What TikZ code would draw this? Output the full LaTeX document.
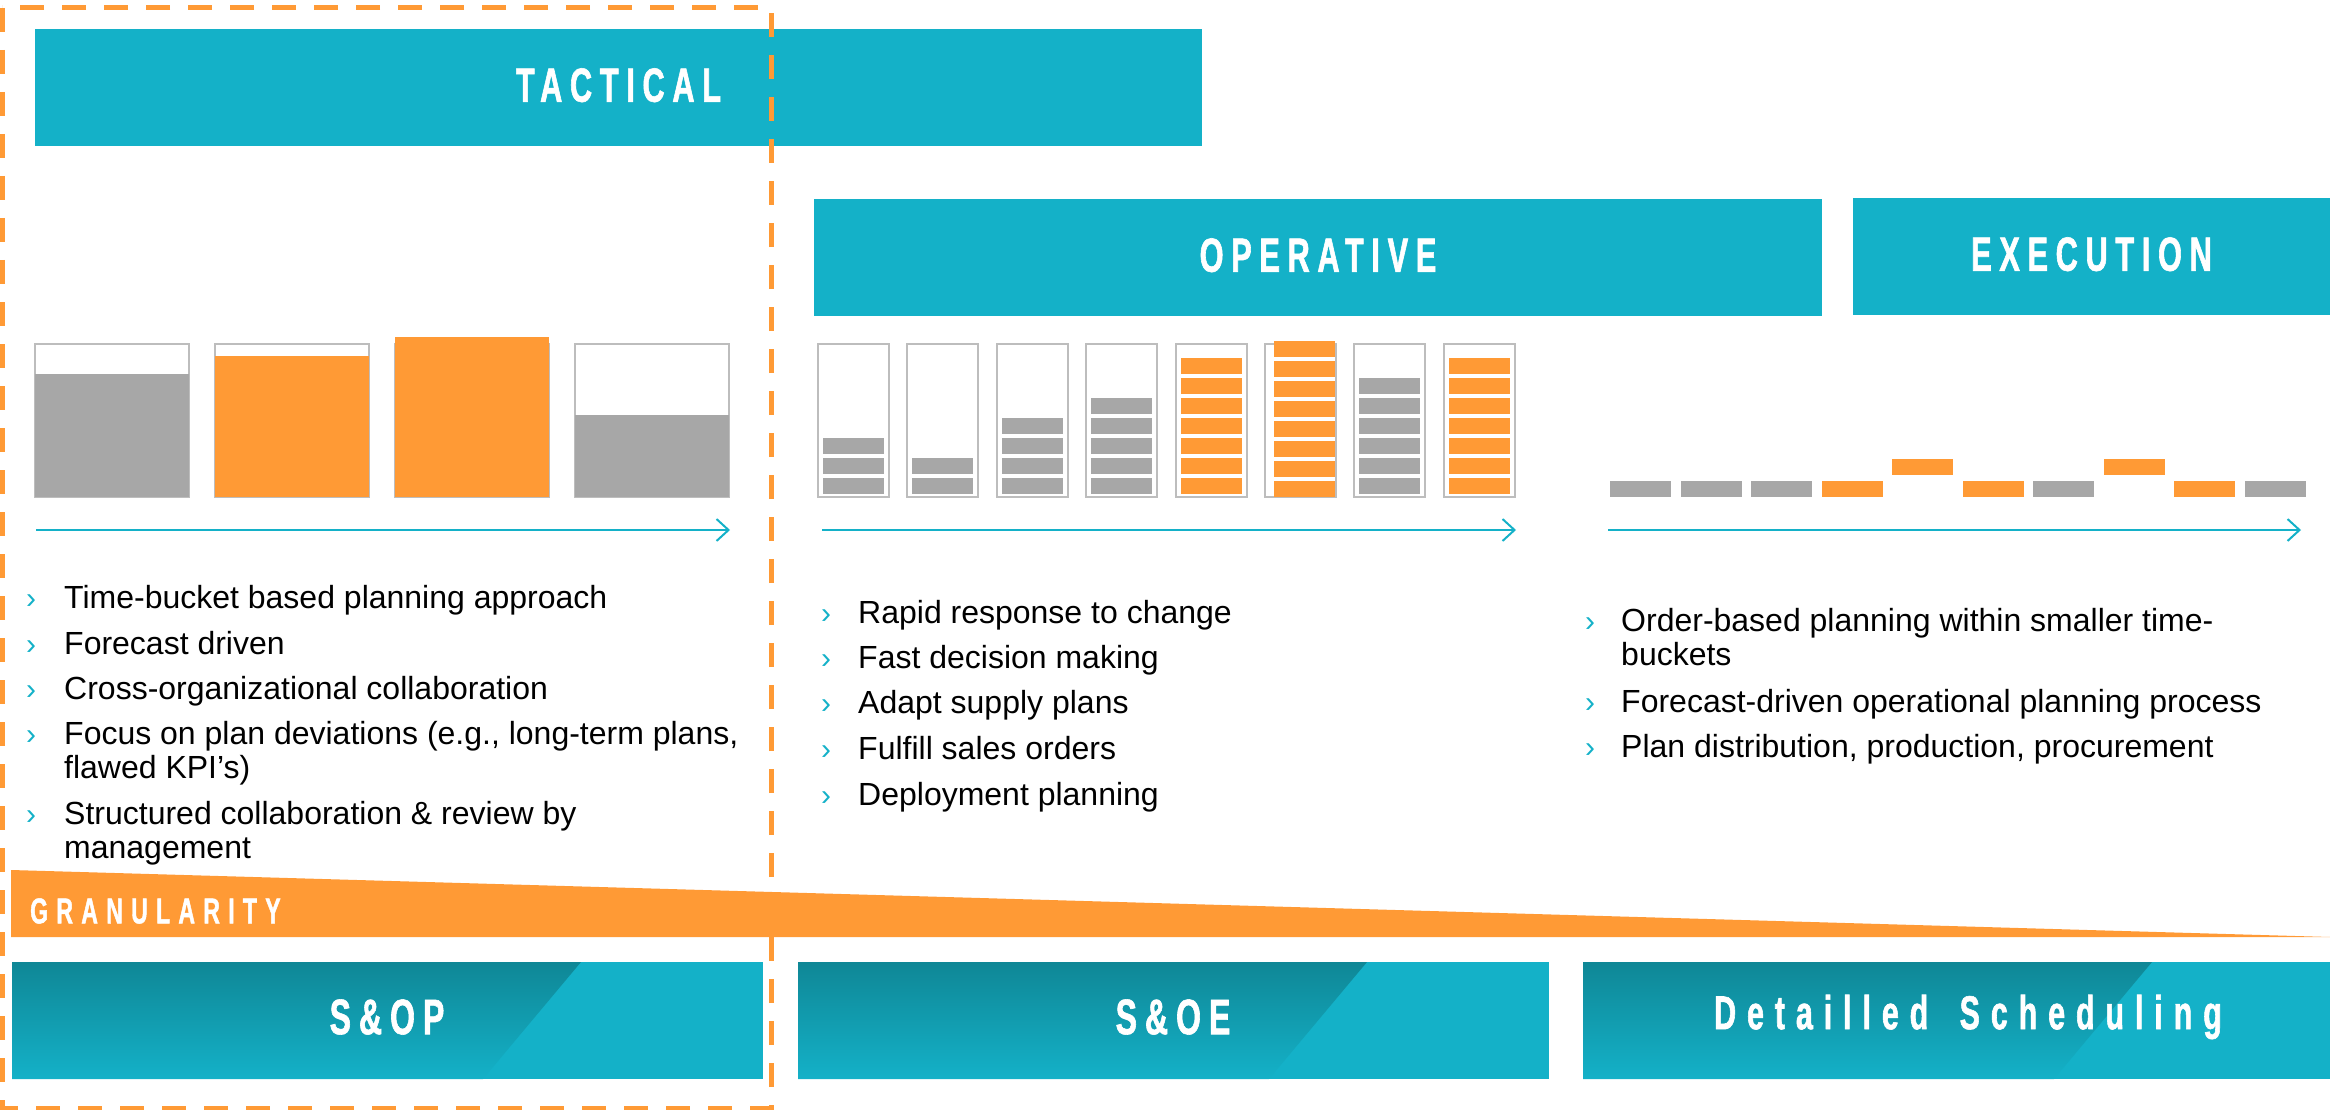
\documentclass[tikz,border=0pt]{standalone}
\usepackage{fontspec}
\setmainfont{Liberation Sans}
\newfontfamily\headfont[FakeStretch=0.64,FakeBold=1.2]{Liberation Sans}
\usetikzlibrary{arrows.meta}

\definecolor{tealblue}{HTML}{14B1C8}
\definecolor{tealdark}{HTML}{0F8796}
\definecolor{plorange}{HTML}{FF9A35}
\definecolor{bargray}{HTML}{A7A7A7}
\definecolor{boxgray}{HTML}{BDBDBD}

\tikzset{
  headbar/.style={fill=tealblue, text=white, inner sep=0pt, minimum height=117pt, text depth=5pt,
    font=\headfont\bfseries\fontsize{48}{48}\selectfont\addfontfeature{LetterSpace=16}},
  lowlabel/.style={text=white, inner sep=0pt,
    font=\headfont\bfseries\fontsize{50}{50}\selectfont\addfontfeature{LetterSpace=16}},
  itemtext/.style={anchor=base west, inner sep=0pt, align=left,
    font=\fontsize{32}{34}\selectfont},
  itemmark/.style={anchor=base west, inner sep=0pt, text=tealblue,
    font=\fontsize{30}{30}\selectfont},
  timeline/.style={tealblue, line width=2pt, -{Straight Barb[length=12pt,width=22pt]}},
  bucket/.style={draw=boxgray, line width=2pt},
}

\begin{document}
\begin{tikzpicture}[x=1pt,y=-1pt]
  \useasboundingbox (0,0) rectangle (2330,1110);

  % planning levels
  \node[headbar, minimum width=1167pt] (tactical) at (618.5,87.5) {TACTICAL};
  \node[headbar, minimum width=1008pt] (operative) at (1318,257.5) {OPERATIVE};
  \node[headbar, minimum width=477pt] (execution) at (2091.5,256.5) {EXECUTION};

  % tactical time buckets
  \foreach \lvl/\c [count=\i from 0] in {374/bargray, 356/plorange, 337/plorange, 415/bargray} {
    \draw[bucket] ({35+180*\i},344) rectangle ++(154,153);
    \fill[\c] ({35+180*\i},\lvl) rectangle ({189+180*\i},497);
  }

  % operative buckets, stacked orders
  \foreach \n/\c/\dx/\bot [count=\i from 0] in {3/bargray/5/494, 2/bargray/5/494, 4/bargray/5/494,
      5/bargray/5/494, 7/plorange/5/494, 8/plorange/9/497, 6/bargray/5/494, 7/plorange/5/494} {
    \draw[bucket] ({818+89.4*\i},344) rectangle ++(71,153);
    \foreach \k in {1,...,\n}
      \fill[\c] ({818+89.4*\i+\dx},{\bot-20*\k+4}) rectangle ++(61,16);
  }

  % execution orders
  \foreach \c/\top [count=\j from 0] in {bargray/481, bargray/481, bargray/481, plorange/481,
      plorange/459, plorange/481, bargray/481, plorange/459, plorange/481, bargray/481}
    \fill[\c] ({1610+70.5*\j},\top) rectangle ++(61,16);

  % time axes
  \coordinate (tac-from) at (36,530);   \coordinate (tac-to) at (730,530);
  \coordinate (ops-from) at (822,530);  \coordinate (ops-to) at (1516,530);
  \coordinate (exe-from) at (1608,530); \coordinate (exe-to) at (2301,530);
  \draw[timeline] (tac-from) -- (tac-to);
  \draw[timeline] (ops-from) -- (ops-to);
  \draw[timeline] (exe-from) -- (exe-to);

  % bullet lists (y = baseline of the last line)
  \foreach \y/\m/\t [count=\i] in {608/608/{Time-bucket based planning approach},
      654/654/{Forecast driven}, 699/699/{Cross-organizational collaboration},
      778/744/{Focus on plan deviations (e.g., long-term plans,\\flawed KPI's)},
      858/824/{Structured collaboration \& review by\\management}} {
    \node[itemmark] (tac-m\i) at (26,\m) {›};
    \node[itemtext] (tac-\i) at (64,\y) {\t};
  }
  \foreach \y/\t [count=\i] in {623/{Rapid response to change}, 668/{Fast decision making},
      713/{Adapt supply plans}, 759/{Fulfill sales orders}, 805/{Deployment planning}} {
    \node[itemmark] (ops-m\i) at (821,\y) {›};
    \node[itemtext] (ops-\i) at (858,\y) {\t};
  }
  \foreach \y/\m/\t [count=\i] in {665/631/{Order-based planning within smaller time-\\buckets},
      712/712/{Forecast-driven operational planning process},
      757/757/{Plan distribution, production, procurement}} {
    \node[itemmark] (exe-m\i) at (1585,\m) {›};
    \node[itemtext] (exe-\i) at (1621,\y) {\t};
  }

  % granularity wedge
  \fill[plorange] (11,870) -- (2330,937) -- (11,937) -- cycle;
  \node[anchor=west, text=white, inner sep=0pt,
    font=\headfont\bfseries\fontsize{36}{36}\selectfont\addfontfeature{LetterSpace=23}]
    (granularity) at (30,911) {GRANULARITY};

  % processes
  \foreach \n/\xa/\xb/\cx/\t in {sop/12/763/387/{S\&OP}, soe/798/1549/1173/{S\&OE},
      ds/1583/2330/1968/{\fontsize{47.5}{48}\selectfont\addfontfeature{LetterSpace=23}Detailled\hspace{12pt} Scheduling}} {
    \fill[tealblue] (\xa,962) rectangle (\xb,1079);
    \shade[top color=tealdark, bottom color=tealblue]
      (\xa,962) -- ({\xa+569},962) -- ({\xa+471},1079) -- (\xa,1079) -- cycle;
    \node[lowlabel] (\n) at (\cx,1017) {\t};
  }

  % S&OP scope
  \draw[plorange, line width=5pt, dash pattern=on 24pt off 18pt] (2,8) rectangle (771,1108);
\end{tikzpicture}
\end{document}
